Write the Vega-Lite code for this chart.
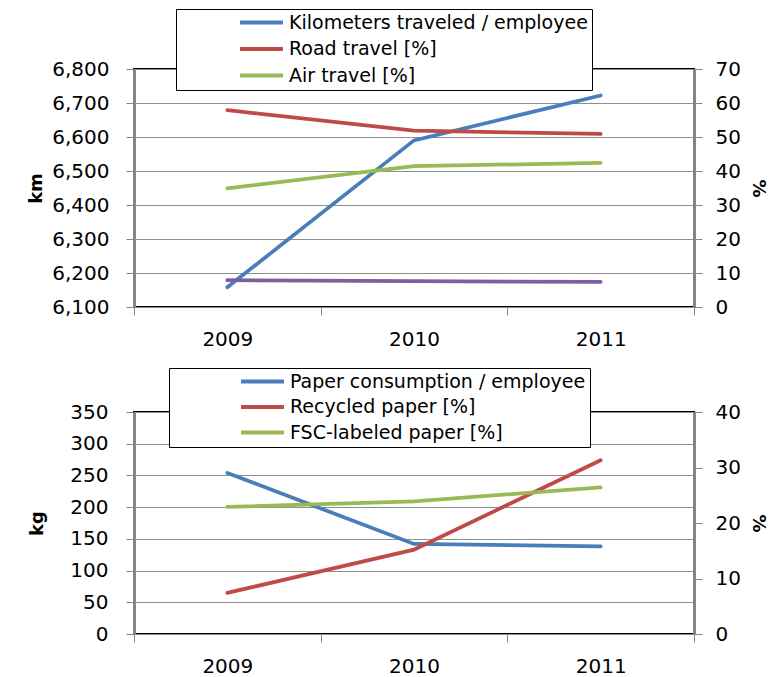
{
  "$schema": "https://vega.github.io/schema/vega-lite/v6.json",
  "background": "white",
  "padding": {"left": 26, "top": 7, "right": 8, "bottom": 0},
  "spacing": 16,
  "datasets": {
    "travel": [
      {"year": "2009", "series": "Kilometers traveled / employee", "value": 6158, "axis": "left"},
      {"year": "2010", "series": "Kilometers traveled / employee", "value": 6590, "axis": "left"},
      {"year": "2011", "series": "Kilometers traveled / employee", "value": 6722, "axis": "left"},
      {"year": "2009", "series": "Road travel [%]", "value": 57.9, "axis": "right"},
      {"year": "2010", "series": "Road travel [%]", "value": 51.9, "axis": "right"},
      {"year": "2011", "series": "Road travel [%]", "value": 50.9, "axis": "right"},
      {"year": "2009", "series": "Air travel [%]", "value": 34.9, "axis": "right"},
      {"year": "2010", "series": "Air travel [%]", "value": 41.4, "axis": "right"},
      {"year": "2011", "series": "Air travel [%]", "value": 42.4, "axis": "right"},
      {"year": "2009", "series": "Rail travel [%]", "value": 7.9, "axis": "right"},
      {"year": "2010", "series": "Rail travel [%]", "value": 7.6, "axis": "right"},
      {"year": "2011", "series": "Rail travel [%]", "value": 7.4, "axis": "right"}
    ],
    "paper": [
      {"year": "2009", "series": "Paper consumption / employee", "value": 254, "axis": "left"},
      {"year": "2010", "series": "Paper consumption / employee", "value": 142, "axis": "left"},
      {"year": "2011", "series": "Paper consumption / employee", "value": 138, "axis": "left"},
      {"year": "2009", "series": "Recycled paper [%]", "value": 7.4, "axis": "right"},
      {"year": "2010", "series": "Recycled paper [%]", "value": 15.2, "axis": "right"},
      {"year": "2011", "series": "Recycled paper [%]", "value": 31.3, "axis": "right"},
      {"year": "2009", "series": "FSC-labeled paper [%]", "value": 22.9, "axis": "right"},
      {"year": "2010", "series": "FSC-labeled paper [%]", "value": 23.9, "axis": "right"},
      {"year": "2011", "series": "FSC-labeled paper [%]", "value": 26.4, "axis": "right"}
    ]
  },
  "resolve": {"scale": {"color": "independent"}, "legend": {"color": "independent"}},
  "vconcat": [
    {
      "width": 560,
      "height": 238,
      "data": {"name": "travel"},
      "encoding": {
        "x": {
          "field": "year", "type": "ordinal",
          "scale": {"type": "band", "paddingInner": 0, "paddingOuter": 0},
          "axis": {"title": null, "labelAngle": 0, "domain": false, "tickBand": "extent", "labelPadding": 14}
        },
        "color": {
          "field": "series", "type": "nominal",
          "scale": {
            "domain": ["Kilometers traveled / employee", "Road travel [%]", "Air travel [%]", "Rail travel [%]"],
            "range": ["#4A7EBB", "#BE4B48", "#98B954", "#7D60A0"]
          },
          "legend": {
            "values": ["Kilometers traveled / employee", "Road travel [%]", "Air travel [%]"],
            "orient": "none", "legendX": 42, "legendY": -60,
            "title": null,
            "symbolType": "stroke", "symbolSize": 1849, "symbolStrokeWidth": 4,
            "symbolOffset": 58, "labelOffset": 4,
            "clipHeight": 19, "rowPadding": 6.5, "padding": 4,
            "labelFontSize": 19, "labelFont": "DejaVu Sans", "labelColor": "black", "labelLimit": 0,
            "fillColor": "white", "strokeColor": "black"
          }
        }
      },
      "layer": [
        {
          "transform": [{"filter": "datum.axis == 'left'"}],
          "mark": {"type": "line", "strokeWidth": 3.75, "strokeCap": "round"},
          "encoding": {
            "y": {
              "field": "value", "type": "quantitative",
              "scale": {"domain": [6100, 6800], "nice": false, "zero": false},
              "axis": {"title": "km", "orient": "left", "values": [6100, 6200, 6300, 6400, 6500, 6600, 6700, 6800], "format": ",d", "labelOverlap": false, "grid": true, "labelPadding": 17, "minExtent": 82, "titlePadding": 6}
            }
          }
        },
        {
          "transform": [{"filter": "datum.axis == 'right'"}],
          "mark": {"type": "line", "strokeWidth": 3.75, "strokeCap": "round"},
          "encoding": {
            "y": {
              "field": "value", "type": "quantitative",
              "scale": {"domain": [0, 70], "nice": false},
              "axis": {"title": "%", "orient": "right", "values": [0, 10, 20, 30, 40, 50, 60, 70], "labelOverlap": false, "grid": false, "labelPadding": 13, "minExtent": 46, "titlePadding": 8}
            }
          }
        }
      ],
      "resolve": {"scale": {"y": "independent"}}
    },
    {
      "width": 560,
      "height": 222,
      "data": {"name": "paper"},
      "encoding": {
        "x": {
          "field": "year", "type": "ordinal",
          "scale": {"type": "band", "paddingInner": 0, "paddingOuter": 0},
          "axis": {"title": null, "labelAngle": 0, "domain": false, "tickBand": "extent", "labelPadding": 14}
        },
        "color": {
          "field": "series", "type": "nominal",
          "scale": {
            "domain": ["Paper consumption / employee", "Recycled paper [%]", "FSC-labeled paper [%]"],
            "range": ["#4A7EBB", "#BE4B48", "#98B954"]
          },
          "legend": {
            "orient": "none", "legendX": 35, "legendY": -44,
            "title": null,
            "symbolType": "stroke", "symbolSize": 1849, "symbolStrokeWidth": 4,
            "symbolOffset": 66, "labelOffset": 4,
            "clipHeight": 19, "rowPadding": 5.5, "padding": 4,
            "labelFontSize": 19, "labelFont": "DejaVu Sans", "labelColor": "black", "labelLimit": 0,
            "fillColor": "white", "strokeColor": "black"
          }
        }
      },
      "layer": [
        {
          "transform": [{"filter": "datum.axis == 'left'"}],
          "mark": {"type": "line", "strokeWidth": 3.75, "strokeCap": "round"},
          "encoding": {
            "y": {
              "field": "value", "type": "quantitative",
              "scale": {"domain": [0, 350], "nice": false},
              "axis": {"title": "kg", "orient": "left", "values": [0, 50, 100, 150, 200, 250, 300, 350], "labelOverlap": false, "grid": true, "labelPadding": 18, "minExtent": 82, "titlePadding": 6}
            }
          }
        },
        {
          "transform": [{"filter": "datum.axis == 'right'"}],
          "mark": {"type": "line", "strokeWidth": 3.75, "strokeCap": "round"},
          "encoding": {
            "y": {
              "field": "value", "type": "quantitative",
              "scale": {"domain": [0, 40], "nice": false},
              "axis": {"title": "%", "orient": "right", "values": [0, 10, 20, 30, 40], "labelOverlap": false, "grid": false, "labelPadding": 13, "minExtent": 46, "titlePadding": 8}
            }
          }
        }
      ],
      "resolve": {"scale": {"y": "independent"}}
    }
  ],
  "config": {
    "font": "DejaVu Sans",
    "view": {"stroke": "black", "strokeWidth": 2},
    "axis": {
      "labelFont": "DejaVu Sans", "labelFontSize": 20, "labelColor": "black",
      "titleFont": "DejaVu Sans", "titleFontSize": 18, "titleFontWeight": "bold", "titleColor": "black",
      "tickColor": "#868686", "tickSize": 8, "tickWidth": 1,
      "domainColor": "#868686", "domainWidth": 3,
      "gridColor": "#8f8f8f", "gridWidth": 1
    }
  }
}
